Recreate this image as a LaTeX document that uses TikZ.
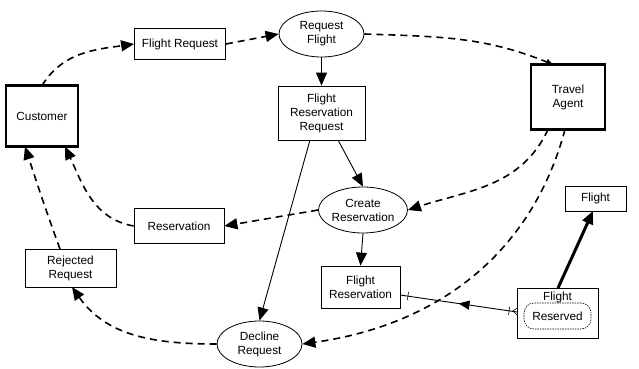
\documentclass[tikz,border=0pt]{standalone}
\usepackage{fontspec}
\setmainfont{Liberation Sans}
\usetikzlibrary{arrows.meta,shapes.geometric,decorations.markings,calc}
\tikzset{
  box/.style={draw, line width=0.8pt, inner sep=0pt, align=center, fill=white},
  actor/.style={draw, line width=2.8pt, inner sep=0pt, align=center, fill=white},
  proc/.style={draw, ellipse, line width=0.8pt, inner sep=0pt, align=center, fill=white},
  tip/.style={-{Triangle[length=13pt,width=11pt]}},
  flow/.style={tip, dashed, line width=1.6pt, dash pattern=on 7pt off 5pt},
  solid/.style={tip, line width=0.9pt},
}
\begin{document}
\begin{tikzpicture}[x=1pt,y=1pt,font=\fontsize{11.8}{14}\selectfont]
\useasboundingbox (0,0) rectangle (639,368);
% nodes (y = 368 - pixel y)
\node[actor, minimum width=72, minimum height=61] (cust) at (42,252) {Customer};
\node[box, minimum width=91, minimum height=31] (freq) at (180,324) {Flight Request};
\node[proc, minimum width=85, minimum height=46] (rf) at (321.5,334) {Request\\Flight};
\node[box, minimum width=87, minimum height=54] (frr) at (321.5,255) {Flight\\Reservation\\Request};
\node[actor, minimum width=74, minimum height=65] (ta) at (568,271) {Travel\\Agent};
\node[proc, minimum width=84, minimum height=46] (cr) at (363,158) {Create\\Reservation};
\node[box, minimum width=90, minimum height=35] (res) at (179,142) {Reservation};
\node[box, minimum width=91, minimum height=38] (rej) at (70.5,100) {Rejected\\Request};
\node[proc, minimum width=85, minimum height=46] (dec) at (259.5,24) {Decline\\Request};
\node[box, minimum width=79, minimum height=42] (fres) at (360.5,81) {Flight\\Reservation};
\node[box, minimum width=61, minimum height=25] (ftop) at (595.5,169.5) {Flight};
\node[box, minimum width=81, minimum height=50] (fbox) at (557.5,55) {};
\node[inner sep=0pt] (ftxt) at (557.5,71) {Flight};
\node[draw, dashed, dash pattern=on 1.5pt off 1pt, line width=0.6pt, rounded corners=10pt,
      minimum width=67, minimum height=26, inner sep=0pt] (rsv) at (557.5,52) {Reserved};
% coordinates on borders
\coordinate (c1) at (42,282.5);
\coordinate (c2) at (65,221.5);
\coordinate (c3) at (25,221.5);
\coordinate (ta1) at (553,303.5);
\coordinate (ta2) at (548,238.5);
\coordinate (ta3) at (565,238.5);
\coordinate (frr1) at (338,228);
\coordinate (frr2) at (310,228);
\coordinate (rej1) at (60,119);
\coordinate (rej2) at (72,81);
\coordinate (fb1) at (517,56);
\coordinate (fr1) at (400,73);
\coordinate (fb2) at (558,80);
\coordinate (ft1) at (593,157);
% connectors
\draw[flow] (c1) to[out=58,in=188] (freq.west);
\draw[flow] (freq.east) -- (rf.west);
\draw[flow, -{Triangle[length=7pt,width=6pt]}] (rf.east) to[out=-2,in=158] (ta1);
\draw[solid] (rf.south) -- (frr.north);
\draw[solid] (frr1) -- (cr.north);
\draw[solid] (frr2) -- (dec.north);
\draw[flow] (ta2) to[out=245,in=18] (cr.east);
\draw[flow] (ta3) to[out=255,in=8] (dec.east);
\draw[flow] (cr.west) -- (res.east);
\draw[flow] (res.west) to[out=170,in=-65] (c2);
\draw[flow] (rej1) to[out=110,in=-72] (c3);
\draw[flow] (dec.west) to[out=180,in=-55] (rej2);
\draw[solid] (cr.south) -- (fres.north);
\draw[line width=0.9pt,
  decoration={markings,
    mark=at position 0.5 with {\arrow{Triangle[length=11pt,width=9pt]}},
    mark=at position 8pt with {\draw[line width=0.6pt] (0,-4) -- (0,4);},
    mark=at position 1 with {\draw[line width=0.6pt] (-8,-4) -- (-8,4);}},
  postaction={decorate}] (fb1) -- (fr1);
\draw[line width=0.6pt] ($(fb1)+(-4,1)$) -- ($(fb1)+(0,-3)$) ($(fb1)+(-4,1)$) -- ($(fb1)+(0,4)$);
\draw[tip, line width=3pt] (fb2) -- (ft1);
\end{tikzpicture}
\end{document}
